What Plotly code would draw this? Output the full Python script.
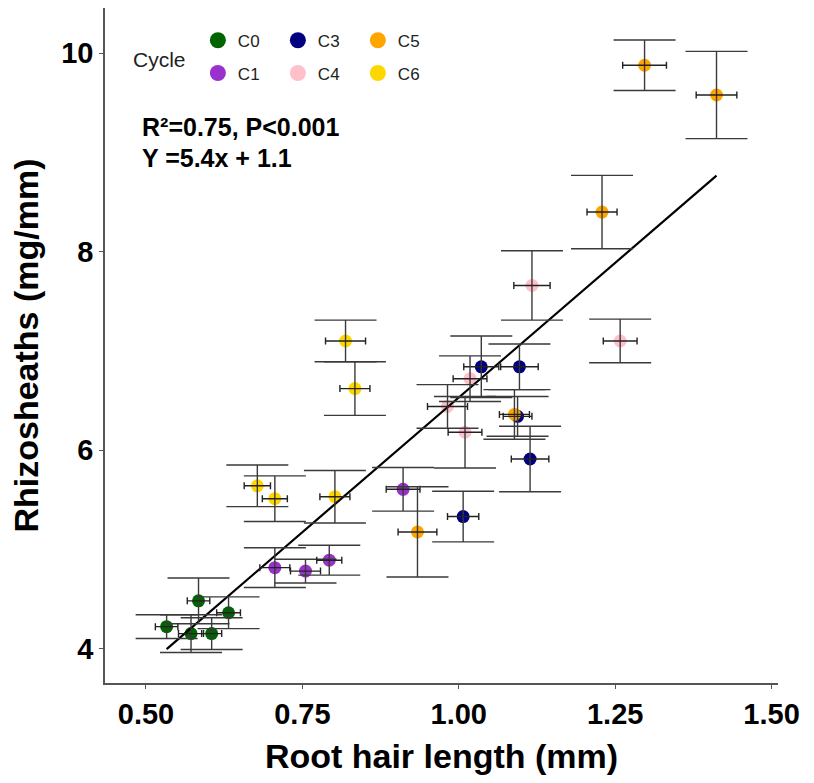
import plotly.graph_objects as go

# ---- data ----
cycles = ["C0", "C1", "C3", "C4", "C5", "C6"]
colors = {"C0": "#006400", "C1": "#9932CC", "C3": "#000080",
          "C4": "#FFC0CB", "C5": "#FFA500", "C6": "#FFD700"}

c0_x = [0.584, 0.632, 0.533, 0.572, 0.605]
c0_y = [4.48, 4.36, 4.22, 4.15, 4.15]
c0_xerr = [0.018, 0.019, 0.018, 0.020, 0.016]
c0_yerr = [0.23, 0.16, 0.12, 0.19, 0.16]

c1_x = [0.706, 0.755, 0.793, 0.911]
c1_y = [4.815, 4.78, 4.89, 5.605]
c1_xerr = [0.024, 0.024, 0.020, 0.027]
c1_yerr = [0.20, 0.12, 0.15, 0.22]

c3_x = [1.036, 1.097, 1.094, 1.114, 1.007]
c3_y = [6.84, 6.84, 6.34, 5.91, 5.33]
c3_xerr = [0.028, 0.030, 0.023, 0.030, 0.025]
c3_yerr = [0.31, 0.23, 0.20, 0.33, 0.255]

c4_x = [1.018, 0.982, 1.010, 1.117, 1.258]
c4_y = [6.72, 6.44, 6.18, 7.66, 7.10]
c4_xerr = [0.027, 0.032, 0.027, 0.029, 0.027]
c4_yerr = [0.23, 0.22, 0.36, 0.35, 0.22]

c5_x = [0.934, 1.089, 1.229, 1.297, 1.412]
c5_y = [5.175, 6.36, 8.40, 9.88, 9.58]
c5_xerr = [0.031, 0.024, 0.024, 0.035, 0.0325]
c5_yerr = [0.455, 0.25, 0.37, 0.255, 0.44]

c6_x = [0.678, 0.706, 0.802, 0.819, 0.834]
c6_y = [5.64, 5.51, 5.53, 7.10, 6.62]
c6_xerr = [0.021, 0.020, 0.024, 0.032, 0.024]
c6_yerr = [0.21, 0.23, 0.265, 0.21, 0.27]

LINE_SLOPE = 5.43
LINE_INTERCEPT = 1.10

x_ticks = [0.50, 0.75, 1.00, 1.25, 1.50]
x_ticklabels = ["0.50", "0.75", "1.00", "1.25", "1.50"]
y_ticks = [4, 6, 8, 10]

series = {
    "C0": (c0_x, c0_y, c0_xerr, c0_yerr),
    "C1": (c1_x, c1_y, c1_xerr, c1_yerr),
    "C3": (c3_x, c3_y, c3_xerr, c3_yerr),
    "C4": (c4_x, c4_y, c4_xerr, c4_yerr),
    "C5": (c5_x, c5_y, c5_xerr, c5_yerr),
    "C6": (c6_x, c6_y, c6_xerr, c6_yerr),
}
# legend layout: row 1 -> C0 C3 C5, row 2 -> C1 C4 C6
legend_of = {"C0": "legend", "C3": "legend", "C5": "legend",
             "C1": "legend2", "C4": "legend2", "C6": "legend2"}
rank_of = {"C0": 1, "C3": 2, "C5": 3, "C1": 1, "C4": 2, "C6": 3}

FONT = "Arial, Liberation Sans, sans-serif"

fig = go.Figure()

all_x, all_y, all_xe, all_ye = [], [], [], []
for c in cycles:
    xs, ys, xe, ye = series[c]
    all_x += xs; all_y += ys; all_xe += xe; all_ye += ye
    fig.add_trace(go.Scatter(
        x=xs, y=ys, mode="markers", name=c,
        marker=dict(size=13, color=colors[c], line=dict(width=0)),
        showlegend=False,
    ))
    # legend-only entry with a larger symbol
    fig.add_trace(go.Scatter(
        x=[None], y=[None], mode="markers", name=c,
        marker=dict(size=18, color=colors[c], line=dict(width=0)),
        legend=legend_of[c], legendrank=rank_of[c], showlegend=True,
    ))

# regression line
xmin, xmax = min(all_x), max(all_x)
fig.add_trace(go.Scatter(
    x=[xmin, xmax],
    y=[LINE_SLOPE * xmin + LINE_INTERCEPT, LINE_SLOPE * xmax + LINE_INTERCEPT],
    mode="lines", line=dict(color="black", width=2.2), showlegend=False,
    hoverinfo="skip",
))

# error bars drawn on top
fig.add_trace(go.Scatter(
    x=all_x, y=all_y, mode="markers",
    marker=dict(size=1, color="rgba(0,0,0,0)"),
    error_y=dict(type="data", array=all_ye, visible=True, color="#3a3a3a",
                 thickness=1.4, width=31),
    error_x=dict(type="data", array=all_xe, visible=True, color="#222222",
                 thickness=1.4, width=3.5),
    showlegend=False, hoverinfo="skip",
))

leg_common = dict(orientation="h", xanchor="left", yanchor="middle",
                  font=dict(size=17, color="#222"), bgcolor="rgba(0,0,0,0)",
                  itemwidth=30, entrywidth=35, traceorder="normal",
                  itemsizing="trace")

fig.update_layout(
    width=814, height=783,
    margin=dict(l=105, r=36, t=8, b=100),
    paper_bgcolor="white", plot_bgcolor="white",
    font=dict(family=FONT, color="black"),
    legend=dict(x=0.138, y=0.9516, **leg_common),
    legend2=dict(x=0.138, y=0.903, **leg_common),
    annotations=[
        dict(text="Cycle", xref="paper", yref="paper", x=(131 - 105) / 673, y=(683 - 60) / 675,
             xanchor="left", yanchor="middle", showarrow=False,
             font=dict(size=21, color="#222", family=FONT)),
        dict(text="<b>R²=0.75, P<0.001</b>", xref="paper", yref="paper",
             x=(140 - 105) / 673, y=(683 - 127) / 675, xanchor="left", yanchor="middle",
             showarrow=False, font=dict(size=25, color="black", family=FONT)),
        dict(text="<b>Y =5.4x + 1.1</b>", xref="paper", yref="paper",
             x=(140 - 105) / 673, y=(683 - 158) / 675, xanchor="left", yanchor="middle",
             showarrow=False, font=dict(size=25, color="black", family=FONT)),
    ],
    xaxis=dict(
        range=[0.4345, 1.5103], tickvals=x_ticks, ticktext=x_ticklabels,
        showgrid=False, zeroline=False, showline=True, linecolor="#555", linewidth=1.5,
        ticks="outside", ticklen=4, tickcolor="#555", tickwidth=1.2,
        tickfont=dict(size=29, family=FONT, color="black", weight="bold"),
        title=dict(text="<b>Root hair length (mm)</b>", standoff=16,
                   font=dict(size=34, family=FONT, color="black")),
    ),
    yaxis=dict(
        range=[3.652, 10.457], tickvals=y_ticks,
        showgrid=False, zeroline=False, showline=True, linecolor="#555", linewidth=1.5,
        ticks="outside", ticklen=4, tickcolor="#555", tickwidth=1.2,
        tickfont=dict(size=29, family=FONT, color="black", weight="bold"),
        title=dict(text="<b>Rhizosheaths (mg/mm)</b>", standoff=12,
                   font=dict(size=34, family=FONT, color="black")),
    ),
)

fig.write_html("out.html")
